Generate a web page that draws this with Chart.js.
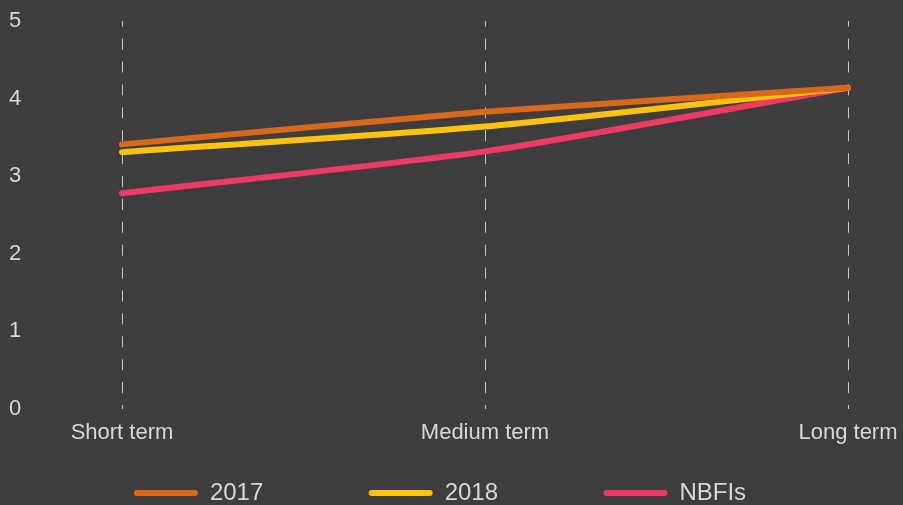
<!DOCTYPE html>
<html>
<head>
<meta charset="utf-8">
<script src="https://cdn.jsdelivr.net/npm/chart.js@4/dist/chart.umd.min.js"></script>
<style>
  html, body { margin: 0; padding: 0; background: #3d3d3d; overflow: hidden; }
  #wrap { width: 903px; height: 505px; position: relative; }
</style>
</head>
<body>
<div id="wrap"><canvas id="c"></canvas></div>
<script>
const categories = ['Short term', 'Medium term', 'Long term'];
const series2017 = [3.41, 3.83, 4.14];
const series2018 = [3.31, 3.64, 4.14];
const seriesNBFIs = [2.78, 3.32, 4.14];
const seriesNames = ['2017', '2018', 'NBFIs'];
const yTicks = [0, 1, 2, 3, 4, 5];

const colors = ['#d8681c', '#ffc20e', '#ef3b63'];
const FONT = '"Liberation Sans", Arial, sans-serif';
const TEXT = '#d8d8d8';

function ds(label, data, color) {
  return {
    label, data,
    borderColor: color, backgroundColor: color,
    borderWidth: 6, pointRadius: 0, pointHoverRadius: 0,
    tension: 0.2, borderCapStyle: 'round', borderJoinStyle: 'round',
    fill: false
  };
}

new Chart(document.getElementById('c'), {
  type: 'line',
  data: {
    labels: categories,
    datasets: [
      ds(seriesNames[0], series2017, colors[0]),
      ds(seriesNames[1], series2018, colors[1]),
      ds(seriesNames[2], seriesNBFIs, colors[2])
    ]
  },
  options: {
    responsive: true,
    maintainAspectRatio: false,
    animation: false,
    devicePixelRatio: 1,
    layout: { padding: { left: 9, right: 32, top: 21, bottom: -10 } },
    plugins: {
      tooltip: { enabled: false },
      legend: {
        position: 'bottom',
        labels: {
          color: TEXT,
          font: { family: FONT, size: 24 },
          boxWidth: 64,
          boxHeight: 6,
          padding: 12,
          useBorderRadius: true,
          borderRadius: 3,
          generateLabels(chart) {
            const items = Chart.defaults.plugins.legend.labels.generateLabels(chart);
            items.forEach((it, i) => {
              it.lineWidth = 0;
              if (i < items.length - 1) it.text = it.text + '              ';
            });
            return items;
          }
        }
      }
    },
    scales: {
      x: {
        type: 'category',
        offset: false,
        grid: { display: true, color: '#c8c8c8', lineWidth: 1, drawTicks: false },
        border: { display: false, dash: [11, 11.9], dashOffset: 5.3 },
        ticks: {
          color: TEXT, font: { family: FONT, size: 22 }, padding: 11,
          maxRotation: 0, autoSkip: false
        },
        afterFit(s) { s.height = 60; s.paddingRight = 40; s.paddingLeft = 40; }
      },
      y: {
        min: 0, max: 5,
        grid: { display: false },
        border: { display: false },
        ticks: {
          color: TEXT, font: { family: FONT, size: 22 }, stepSize: 1,
          crossAlign: 'far',
          callback: (v) => yTicks.includes(v) ? String(v) : null
        },
        afterFit(s) { s.width = 113; }
      },
      yR: {
        position: 'right',
        display: true,
        grid: { display: false },
        border: { display: false },
        ticks: { display: false },
        afterFit(s) { s.width = 23; }
      }
    }
  }
});
</script>
</body>
</html>
